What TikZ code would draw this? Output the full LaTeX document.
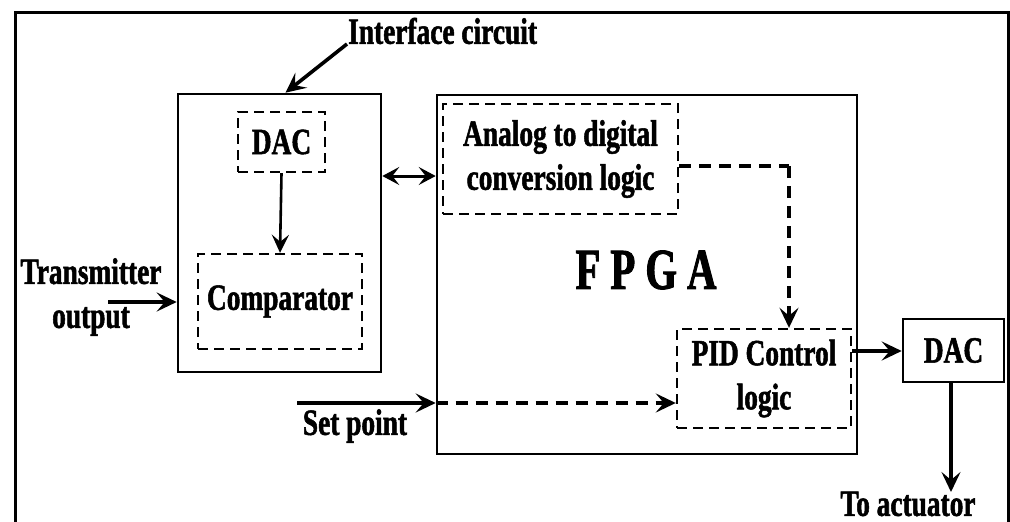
\documentclass[tikz,border=0pt]{standalone}
\usepackage{fontspec}
\setmainfont{Liberation Serif}[FakeStretch=0.74, BoldFeatures={FakeBold=1.4}]
\newfontfamily\bigfont{Liberation Serif}[FakeStretch=0.70, BoldFeatures={FakeBold=1.6}]
\usetikzlibrary{arrows.meta}

\begin{document}
\begin{tikzpicture}[x=1pt,y=-1pt,
  lbl/.style={font=\bfseries\fontsize{37}{44}\selectfont, inner sep=0pt, align=center},
  solidbox/.style={draw, line width=2.6pt, inner sep=0pt},
  dashbox/.style={draw, line width=2.4pt, dash pattern=on 10pt off 6pt, inner sep=0pt,
    align=center, font=\bfseries\fontsize{37}{44}\selectfont},
  tip/.style={-{Stealth[length=20pt,width=19pt,inset=8pt]}},
  arr/.style={line width=3.6pt, tip},
  thinarr/.style={line width=2.6pt, -{Stealth[length=18pt,width=17pt,inset=7pt]}},
  dasharr/.style={line width=3.4pt, dash pattern=on 12pt off 8pt, tip},
  biarr/.style={line width=3pt, {Stealth[length=17pt,width=18pt,inset=7pt]}-{Stealth[length=17pt,width=18pt,inset=7pt]}}]

\useasboundingbox (0,0) rectangle (1010,522);

% outer frame, open at the bottom
\draw[line width=3pt] (15,530) -- (15,12) -- (1008,12) -- (1008,530);

% interface circuit with its DAC and comparator
\node[solidbox, minimum width=203pt, minimum height=278pt] (iface) at (279.5,233) {};
\node[dashbox, minimum width=87pt, minimum height=60pt] (dacin) at (281.5,142) {DAC};
\node[dashbox, minimum width=164pt, minimum height=95pt] (comp) at (280,301.5) {Comparator};

% FPGA with its logic blocks
\node[solidbox, minimum width=420pt, minimum height=359pt] (fpga) at (647,274.5) {};
\node[dashbox, minimum width=235pt, minimum height=110pt] (adc) at (560.5,159)
  {Analog to digital\\conversion logic};
\node[dashbox, minimum width=174pt, minimum height=99pt] (pid) at (764,378.5)
  {PID Control\\logic};
\node[font=\bigfont\bfseries\fontsize{58}{60}\selectfont, inner sep=0pt] (fpgalbl) at (646,270) {F P G A};

% output DAC
\node[solidbox, minimum width=101pt, minimum height=63pt, font=\bfseries\fontsize{37}{44}\selectfont]
  (dacout) at (953.5,350.5) {DAC};

% labels
\node[lbl, anchor=west] (iclbl) at (348,31) {Interface circuit};
\node[lbl] (txlbl) at (91,297) {Transmitter\\output};
\node[lbl] (splbl) at (355,426) {Set point};
\node[lbl] (actlbl) at (908,504) {To actuator};

% connector end points
\coordinate (icstart) at (347,44);
\coordinate (txin) at (108,302);
\coordinate (bus) at (0,176);
\coordinate (spin) at (297,403);
\coordinate (corner) at (789,166);
\coordinate (pidout) at (0,351);
\coordinate (actend) at (951,492);

% connectors
\draw[arr] (icstart) -- ([xshift=6pt]iface.north);
\draw[arr] (txin) -- (txin -| iface.west);
\draw[thinarr] (dacin.south) -- (comp.north);
\draw[biarr] (iface.east |- bus) -- (fpga.west |- bus);
\draw[line width=3.4pt, dash pattern=on 12pt off 8pt] (adc.east |- corner) -- (corner);
\draw[dasharr] (corner) -- (corner |- pid.north);
\draw[arr] (spin) -- (spin -| fpga.west);
\draw[dasharr] (spin -| fpga.west) -- (spin -| pid.west);
\draw[arr] (pid.east |- pidout) -- (dacout.west |- pidout);
\draw[arr] (dacout.south -| actend) -- (actend);
\end{tikzpicture}
\end{document}
